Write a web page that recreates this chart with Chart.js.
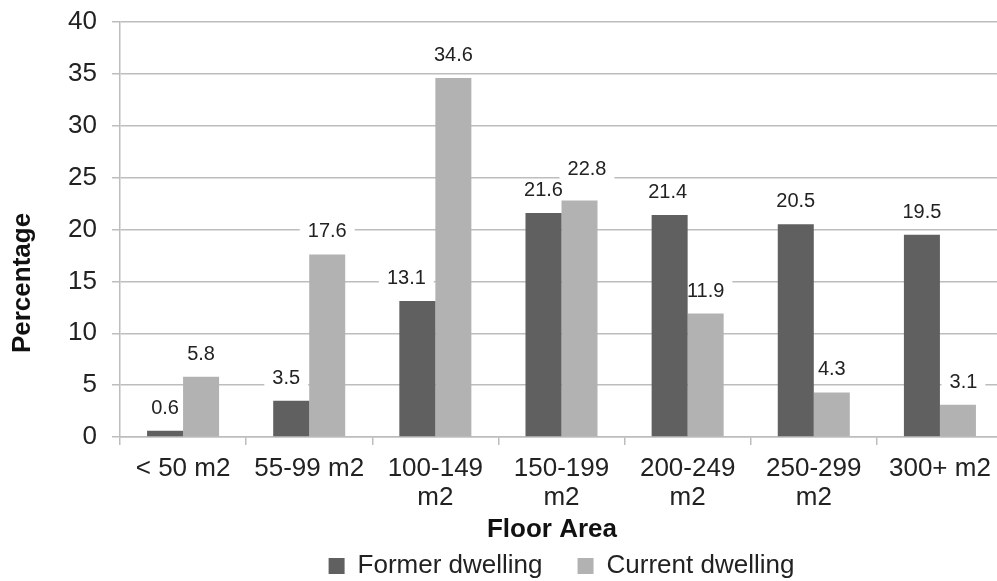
<!DOCTYPE html>
<html>
<head>
<meta charset="utf-8">
<title>Floor Area</title>
<script src="https://cdn.jsdelivr.net/npm/chart.js@4.4.0/dist/chart.umd.min.js"></script>
<style>
  html, body { margin: 0; padding: 0; background: #ffffff; overflow: hidden; }
  #wrap { width: 997px; height: 581px; overflow: hidden; }
  canvas { display: block; }
</style>
</head>
<body>
<div id="wrap"><canvas id="chart" width="1006" height="589"></canvas></div>
<script>
// Floor area bands on the x axis
const categories = ['< 50 m2', '55-99 m2', ['100-149', 'm2'], ['150-199', 'm2'], ['200-249', 'm2'], ['250-299', 'm2'], '300+ m2'];
const seriesNames = ['Former dwelling', 'Current dwelling'];
// Percentage of households per band
const formerDwelling = [0.6, 3.5, 13.1, 21.6, 21.4, 20.5, 19.5];
const currentDwelling = [5.8, 17.6, 34.6, 22.8, 11.9, 4.3, 3.1];
const yTicks = [0, 5, 10, 15, 20, 25, 30, 35, 40];

const FONT = "'Liberation Sans', Arial, Helvetica, sans-serif";
const TEXT = '#222222';
const GRID = '#bdbdbd';

Chart.defaults.font.family = FONT;
Chart.defaults.color = TEXT;

// Value labels above each bar; a white box behind the text hides the gridlines
function labelItems(chart, opts) {
  const items = [];
  chart.data.datasets.forEach((ds, di) => {
    const meta = chart.getDatasetMeta(di);
    meta.data.forEach((bar, i) => {
      const n = (opts.nudge[di] && opts.nudge[di][i]) || [0, 0];
      items.push({ text: ds.data[i].toFixed(1), x: bar.x + n[0], y: bar.y - opts.gap + n[1] });
    });
  });
  return items;
}
const valueLabels = {
  id: 'valueLabels',
  beforeDatasetsDraw(chart, args, opts) {
    const ctx = chart.ctx;
    ctx.save();
    ctx.font = opts.font;
    ctx.fillStyle = '#ffffff';
    for (const it of labelItems(chart, opts)) {
      const w = ctx.measureText(it.text).width;
      ctx.fillRect(it.x - w / 2 - opts.padX, it.y - opts.boxH / 2, w + 2 * opts.padX, opts.boxH);
    }
    ctx.restore();
  },
  afterDatasetsDraw(chart, args, opts) {
    const ctx = chart.ctx;
    ctx.save();
    ctx.font = opts.font;
    ctx.fillStyle = opts.color;
    ctx.textAlign = 'center';
    ctx.textBaseline = 'middle';
    for (const it of labelItems(chart, opts)) ctx.fillText(it.text, it.x, it.y);
    ctx.restore();
  }
};

// Axis titles
const axisTitles = {
  id: 'axisTitles',
  afterDraw(chart, args, opts) {
    const ctx = chart.ctx;
    ctx.save();
    ctx.font = opts.font;
    ctx.fillStyle = opts.color;
    ctx.textAlign = 'center';
    ctx.textBaseline = 'middle';
    ctx.fillText(opts.x.text, opts.x.cx, opts.x.cy);
    ctx.translate(opts.y.cx, opts.y.cy);
    ctx.rotate(-Math.PI / 2);
    ctx.fillText(opts.y.text, 0, 0);
    ctx.restore();
  }
};

new Chart(document.getElementById('chart'), {
  type: 'bar',
  data: {
    labels: categories,
    datasets: [
      { label: seriesNames[0], data: formerDwelling, backgroundColor: '#606060', borderWidth: 0 },
      { label: seriesNames[1], data: currentDwelling, backgroundColor: '#b2b2b2', borderWidth: 0 }
    ]
  },
  options: {
    responsive: false,
    animation: false,
    events: [],
    layout: { padding: { top: 22, right: 3, bottom: 0, left: 0 } },
    datasets: { bar: { categoryPercentage: 0.571, barPercentage: 1 } },
    scales: {
      x: {
        offset: true,
        grid: { display: true, drawOnChartArea: false, drawTicks: true, tickLength: 8, color: GRID, lineWidth: 1.5, offset: true },
        border: { display: true, color: GRID, width: 1.5 },
        ticks: { font: { size: 26, lineHeight: 1.12 }, color: TEXT, padding: 9, maxRotation: 0, autoSkip: false },
        afterFit(s) { s.height = 81; }
      },
      y: {
        min: 0,
        max: 40,
        afterBuildTicks(s) { s.ticks = yTicks.map(v => ({ value: v })); },
        grid: { color: GRID, lineWidth: 1.5, drawTicks: true, tickLength: 8 },
        border: { display: true, color: GRID, width: 1.5 },
        ticks: { font: { size: 26 }, color: TEXT, padding: 15 },
        afterFit(s) { s.width = 120; s.paddingTop = 0; s.paddingBottom = 0; }
      }
    },
    plugins: {
      legend: {
        position: 'bottom',
        fullSize: false,
        labels: { boxWidth: 16, boxHeight: 16, padding: 35, font: { size: 26 }, color: TEXT }
      },
      tooltip: { enabled: false },
      valueLabels: {
        font: "20px " + FONT,
        color: TEXT,
        gap: 22.5,
        padX: 8,
        boxH: 22,
        nudge: {
          0: { 1: [-5, 0], 2: [-11, 0], 4: [-2, 0] },
          1: { 3: [7.5, -8], 6: [5.5, 0] }
        }
      },
      axisTitles: {
        font: "bold 26px " + FONT,
        color: '#111111',
        x: { text: 'Floor Area', cx: 552, cy: 530 },
        y: { text: 'Percentage', cx: 23, cy: 283 }
      }
    }
  },
  plugins: [valueLabels, axisTitles]
});
</script>
</body>
</html>
